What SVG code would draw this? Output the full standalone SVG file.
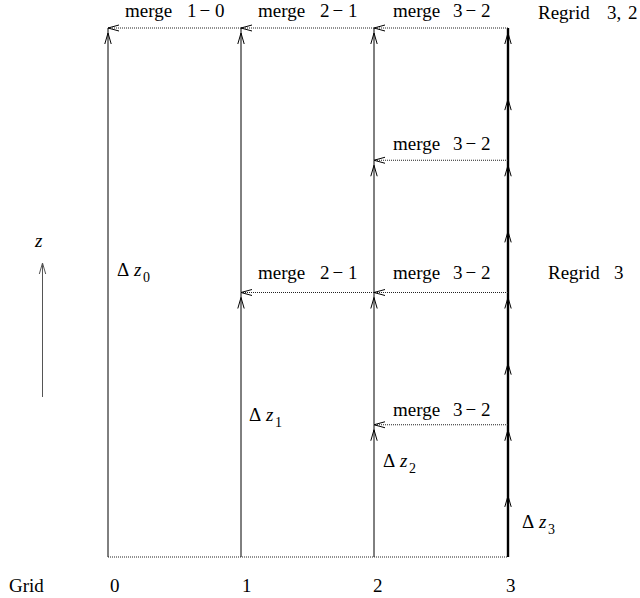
<svg xmlns="http://www.w3.org/2000/svg" width="640" height="598" viewBox="0 0 640 598">
<style>
text{font-family:"Liberation Serif","Times New Roman",serif;font-size:19px;fill:#000}
.it{font-style:italic}
.sub{font-size:14px}
.col{fill:none;stroke:#000;stroke-width:1;marker-mid:url(#vh);marker-end:url(#vh)}
.thick{stroke-width:2.4}
.merge{fill:none;stroke:#222;stroke-width:1;stroke-dasharray:1 1;marker-end:url(#hh)}
.base{fill:none;stroke:#222;stroke-width:1;stroke-dasharray:1 1}
</style>
<defs>
<marker id="vh" markerUnits="userSpaceOnUse" orient="auto" refX="16" refY="0" markerWidth="20" markerHeight="10" viewBox="0 -5 20 10" overflow="visible">
<path d="M0,-3.2 L11,0 L0,3.2" fill="none" stroke="#000" stroke-width="1"/>
</marker>
<marker id="hh" markerUnits="userSpaceOnUse" orient="auto" refX="11" refY="0" markerWidth="14" markerHeight="10" viewBox="0 -5 14 10" overflow="visible">
<path d="M0,-3 L11,0 L0,3" fill="none" stroke="#000" stroke-width="1"/>
</marker>
<marker id="ah" markerUnits="userSpaceOnUse" orient="auto" refX="11" refY="0" markerWidth="14" markerHeight="10" viewBox="0 -5 14 10" overflow="visible">
<path d="M0,-3.2 L11,0 L0,3.2" fill="none" stroke="#555" stroke-width="1"/>
</marker>
</defs>

<g id="connectors">
<path id="col0" class="col" d="M108,557 V28"/>
<path id="col1" class="col" d="M241,557 V292.5 V28"/>
<path id="col2" class="col" d="M374,557 V424.75 V292.5 V160.25 V28"/>
<path id="col3" class="col thick" d="M508,557 V490.875 V424.75 V358.625 V292.5 V226.375 V160.25 V94.125 V28"/>
<path class="base" d="M108,557 H508"/>
<path class="merge" d="M508,28 H374"/>
<path class="merge" d="M374,28 H241"/>
<path class="merge" d="M241,28 H108"/>
<path class="merge" d="M508,160.25 H374"/>
<path class="merge" d="M508,292.5 H374"/>
<path class="merge" d="M374,292.5 H241"/>
<path class="merge" d="M508,424.75 H374"/>
<path id="zaxis" d="M42.5,397 V263" fill="none" stroke="#555" stroke-width="1" marker-end="url(#ah)"/>
</g>

<g id="labels-top">
<text x="125" y="17">merge<tspan x="187 199.5 215">1−0</tspan></text>
<text x="258" y="17">merge<tspan x="320 332.5 348">2−1</tspan></text>
<text x="393" y="17">merge<tspan x="453 465.5 481">3−2</tspan></text>
<text x="538" y="19">Regrid<tspan x="607">3,</tspan><tspan x="628">2</tspan></text>
</g>
<g id="labels-160">
<text x="393" y="150">merge<tspan x="453 465.5 481">3−2</tspan></text>
</g>
<g id="labels-292">
<text x="258" y="279">merge<tspan x="320 332.5 348">2−1</tspan></text>
<text x="393" y="279">merge<tspan x="453 465.5 481">3−2</tspan></text>
<text x="548" y="279">Regrid<tspan x="614">3</tspan></text>
</g>
<g id="labels-425">
<text x="393" y="416">merge<tspan x="453 465.5 481">3−2</tspan></text>
</g>

<g id="dz0"><text x="117" y="276">Δ<tspan class="it" x="134">z</tspan><tspan class="sub" x="143" dy="6">0</tspan></text></g>
<g id="dz1"><text x="249" y="421">Δ<tspan class="it" x="266">z</tspan><tspan class="sub" x="275" dy="6">1</tspan></text></g>
<g id="dz2"><text x="383" y="467">Δ<tspan class="it" x="400">z</tspan><tspan class="sub" x="409" dy="6">2</tspan></text></g>
<g id="dz3"><text x="522" y="528">Δ<tspan class="it" x="539">z</tspan><tspan class="sub" x="548" dy="6">3</tspan></text></g>

<g id="zlabel"><text class="it" x="35" y="247">z</text></g>

<g id="grid-labels">
<text x="9" y="592">Grid</text>
<text x="110" y="592">0</text>
<text x="242" y="592">1</text>
<text x="373" y="592">2</text>
<text x="506" y="592">3</text>
</g>
</svg>
